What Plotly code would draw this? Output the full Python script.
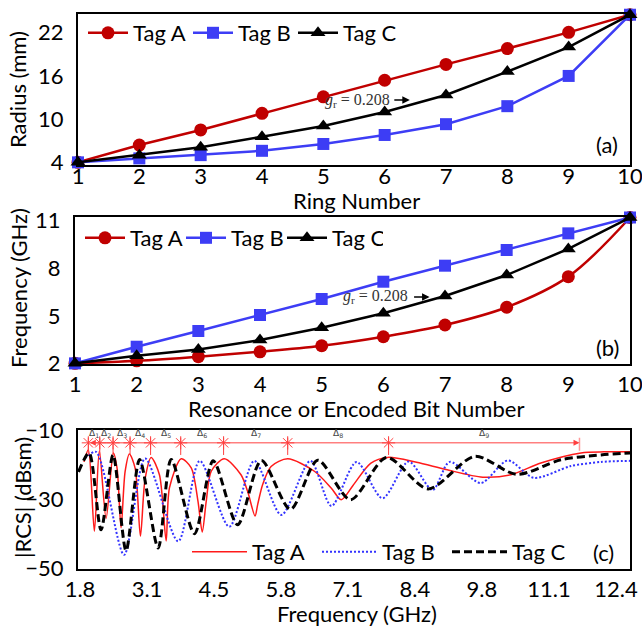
import plotly.graph_objects as go

# ---------------- data ----------------
rings = list(range(1, 11))
radius_A = [4, 6.4, 8.5, 10.8, 13.1, 15.4, 17.6, 19.8, 22.05, 24.5]
radius_B = [4, 4.55, 5.0, 5.6, 6.55, 7.8, 9.3, 11.8, 16.0, 24.5]
radius_C = [4, 5.0, 6.1, 7.55, 9.05, 11.0, 13.35, 16.6, 20.0, 24.5]

bits = list(range(1, 11))
freq_A = [2, 2.16, 2.42, 2.73, 3.11, 3.68, 4.42, 5.54, 7.47, 11.2]
freq_B = [2, 3.05, 4.04, 5.05, 6.06, 7.15, 8.16, 9.15, 10.2, 11.2]
freq_C = [2, 2.48, 2.88, 3.47, 4.25, 5.16, 6.25, 7.57, 9.22, 11.2]

rcsA_f = [1.879, 1.965, 2.084, 2.183, 2.316, 2.460, 2.533, 2.612, 2.692, 2.777,
          2.890, 2.995, 3.088, 3.207, 3.371, 3.504, 3.569, 3.802, 4.000, 4.133,
          4.218, 4.297, 4.396, 4.654, 4.984, 5.115, 5.262, 5.314, 5.413, 5.579,
          5.908, 6.436, 6.767, 6.966, 7.199, 7.547, 7.883, 8.455, 9.038, 9.765,
          10.320, 10.915, 11.708, 12.163, 12.678]
rcsA_v = [-19.2, -15.7, -39.2, -16.0, -35.5, -16.6, -21.0, -38.2, -22.0, -16.9,
          -21.0, -40.6, -24.0, -17.9, -22.9, -42.0, -26.7, -18.3, -20.9, -30.5,
          -39.4, -30.5, -21.9, -18.3, -22.9, -27.7, -34.8, -31.5, -25.7, -20.5,
          -18.3, -21.9, -26.7, -30.1, -26.0, -19.6, -17.9, -19.3, -21.4, -23.6,
          -22.9, -19.5, -16.6, -16.3, -16.3]

rcsB_f = [1.900, 2.117, 2.672, 3.088, 3.742, 4.168, 4.753, 5.248, 5.782, 6.357,
          6.773, 7.269, 7.784, 8.300, 8.774, 9.111, 9.726, 10.261, 10.776, 11.509,
          12.104, 12.678]
rcsB_v = [-18.1, -16.3, -46.0, -18.2, -42.1, -18.9, -37.9, -18.9, -34.5, -18.9,
          -31.9, -19.2, -29.7, -19.1, -27.3, -19.2, -25.3, -18.8, -23.8, -20.4,
          -19.2, -18.9]

rcsC_f = [1.771, 1.979, 2.216, 2.454, 2.711, 2.979, 3.346, 3.603, 4.064, 4.435,
          4.917, 5.387, 5.962, 6.502, 7.150, 7.863, 8.686, 9.607, 10.439, 11.311,
          12.104, 12.678]
rcsC_v = [-22.1, -16.6, -38.8, -17.2, -44.8, -18.5, -44.0, -18.5, -39.9, -18.9,
          -37.3, -18.8, -32.9, -18.7, -30.1, -17.9, -27.0, -17.6, -22.8, -18.6,
          -17.2, -16.6]

# Tag A resonance markers (stars) and end of the dimension line
res_A = [1.965, 2.191, 2.454, 2.790, 3.196, 3.792, 4.640, 5.908, 7.903]
res_end = 11.679
delta_labels = ["Δ<sub>%d</sub>" % i for i in range(1, 10)]

rcs_tickvals = [1.8, 3.125, 4.45, 5.775, 7.1, 8.425, 9.75, 11.075, 12.4]
rcs_ticktext = ["1.8", "3.1", "4.5", "5.8", "7.1", "8.4", "9.8", "11.1", "12.4"]

# ---------------- styling ----------------
FONT = "Lato"
FS = 22
RED_D = "#C00000"
BLUE_D = "#3D3DF5"
RED_C = "#FF1A1A"
BLUE_C = "#3333FF"
STAR = "#FF4040"

W, H = 642, 627
ML, MR, MT, MB = 70, 12, 10, 55
PW, PH = W - ML - MR, H - MT - MB

def px(x_px):
    return (x_px - ML) / PW

def py(y_px):
    return (H - MB - y_px) / PH

fig = go.Figure()

def add_top(x, ys, xa, ya, leg, spline_flags):
    specs = [("Tag A", ys[0], RED_D, "circle", 13),
             ("Tag B", ys[1], BLUE_D, "square", 12),
             ("Tag C", ys[2], "black", "triangle-up", 13)]
    for (name, y, col, sym, ms), spl in zip(specs, spline_flags):
        fig.add_trace(go.Scatter(
            x=x, y=y, name=name, xaxis=xa, yaxis=ya, legend=leg,
            mode="lines+markers", cliponaxis=False,
            line=dict(color=col, width=2.5, shape="spline" if spl else "linear"),
            marker=dict(symbol=sym, size=ms, color=col)))

add_top(rings, [radius_A, radius_B, radius_C], "x", "y", "legend", [False, False, False])
add_top(bits, [freq_A, freq_B, freq_C], "x2", "y2", "legend2", [True, False, False])

fig.add_trace(go.Scatter(x=rcsA_f, y=rcsA_v, name="Tag A", xaxis="x3", yaxis="y3",
                         legend="legend3", mode="lines",
                         line=dict(color=RED_C, width=1.5, shape="spline", smoothing=0.8)))
fig.add_trace(go.Scatter(x=rcsB_f, y=rcsB_v, name="Tag B", xaxis="x3", yaxis="y3",
                         legend="legend3", mode="lines",
                         line=dict(color=BLUE_C, width=2, dash="2px,2px", shape="spline", smoothing=0.8)))
fig.add_trace(go.Scatter(x=rcsC_f, y=rcsC_v, name="Tag C", xaxis="x3", yaxis="y3",
                         legend="legend3", mode="lines",
                         line=dict(color="black", width=3, dash="8px,4px", shape="spline", smoothing=0.8)))

# dimension line markers
LINE_Y = -13.7
vx, vy = [], []
for f in res_A:
    vx += [f, f, None]
    vy += [-12.2, -17.2, None]
fig.add_trace(go.Scatter(x=vx, y=vy, xaxis="x3", yaxis="y3", mode="lines",
                         line=dict(color=STAR, width=1), showlegend=False, hoverinfo="skip"))
fig.add_trace(go.Scatter(x=res_A, y=[LINE_Y] * len(res_A), xaxis="x3", yaxis="y3", mode="markers",
                         marker=dict(symbol="asterisk-open", size=11, color=STAR,
                                     line=dict(color=STAR, width=1)),
                         showlegend=False, hoverinfo="skip"))
fig.add_trace(go.Scatter(x=[res_end, res_end], y=[-12.2, -16.0], xaxis="x3", yaxis="y3", mode="lines",
                         line=dict(color="#FF9999", width=1.5), showlegend=False, hoverinfo="skip"))

annotations = []
annotations.append(dict(x=res_end, y=LINE_Y, ax=res_A[0], ay=LINE_Y, xref="x3", yref="y3",
                        axref="x3", ayref="y3", text="", showarrow=True, arrowhead=2,
                        arrowside="end+start", arrowsize=1.2, arrowwidth=1, arrowcolor=STAR))
bounds = res_A + [res_end]
for i, lab in enumerate(delta_labels):
    annotations.append(dict(x=(bounds[i] + bounds[i + 1]) / 2, y=-11.1, xref="x3", yref="y3",
                            text=lab, showarrow=False,
                            font=dict(family="DejaVu Sans", size=9, color="#444")))

gr_text = "<i>g</i><sub>r</sub> = 0.208"
for (tx, ty, axn, ayn, ex) in [(5.56, 12.65, "x", "y", 6.41), (5.88, 6.19, "x2", "y2", 6.75)]:
    annotations.append(dict(x=tx, y=ty, xref=axn, yref=ayn, text=gr_text, showarrow=False,
                            font=dict(family="Liberation Serif", size=16, color="#333")))
    annotations.append(dict(x=ex, y=ty, xref=axn, yref=ayn, ax=-17, ay=0, text="",
                            showarrow=True, arrowhead=2, arrowsize=1, arrowwidth=1.5,
                            arrowcolor="black"))

def pa(x_px, y_px, text, angle=0):
    return dict(x=px(x_px), y=py(y_px), xref="paper", yref="paper",
                text=text, showarrow=False, textangle=angle,
                xanchor="center", yanchor="middle", font=dict(family=FONT, size=FS, color="black"))

annotations += [
    pa(18, 90, "Radius (mm)", -90),
    pa(18, 288, "Frequency (GHz)", -90),
    pa(22, 498, "|RCS| (dBsm)", -90),
    pa(356, 201, "Ring Number"),
    pa(356, 408, "Resonance or Encoded Bit Number"),
    pa(357, 613, "Frequency (GHz)"),
    pa(607, 145, "(a)"),
    pa(607, 347, "(b)"),
    pa(603, 552, "(c)"),
]

axis_common = dict(showline=True, linecolor="black", linewidth=2, mirror=True,
                   showgrid=False, zeroline=False, ticks="", automargin=False,
                   tickfont=dict(family=FONT, size=FS, color="black"))
xax = dict(ticklabeloverflow="allow", **axis_common)
yax = dict(ticklabelstandoff=8, **axis_common)

def leg(x_px, y_px, ew, iw):
    return dict(orientation="h", xref="container", yref="container",
                x=x_px / W, y=1 - y_px / H, xanchor="left", yanchor="middle",
                entrywidth=ew, entrywidthmode="pixels", itemwidth=iw,
                bgcolor="rgba(0,0,0,0)", font=dict(family=FONT, size=FS))

fig.update_layout(
    template="none",
    width=W, height=H,
    margin=dict(l=ML, r=MR, t=MT, b=MB, autoexpand=False),
    paper_bgcolor="white", plot_bgcolor="white",
    font=dict(family=FONT, size=FS, color="black"),
    xaxis=dict(domain=[px(78), 1], range=[1, 10], tickvals=rings, anchor="y",
               ticklabelstandoff=-9, **xax),
    yaxis=dict(domain=[py(165), py(14)], range=[3.63, 24.6], tickvals=[4, 10, 16, 22],
               anchor="x", **yax),
    xaxis2=dict(domain=[px(75), 1], range=[1, 10], tickvals=bits, anchor="y2", **xax),
    yaxis2=dict(domain=[py(364), py(216.7)], range=[1.96, 11.25], tickvals=[2, 5, 8, 11],
                anchor="x2", **yax),
    xaxis3=dict(domain=[px(78), 1], range=[1.7605, 12.678], tickvals=rcs_tickvals,
                ticktext=rcs_ticktext, anchor="y3", **xax),
    yaxis3=dict(domain=[py(568.7), py(430)], range=[-50, -10], tickvals=[-10, -30, -50],
                anchor="x3", **yax),
    legend=leg(83, 33, 50, 40),
    legend2=leg(80, 238, 46, 40),
    legend3=leg(187, 552, 60, 55),
    annotations=annotations,
    showlegend=True,
)

fig.write_html("out.html")
